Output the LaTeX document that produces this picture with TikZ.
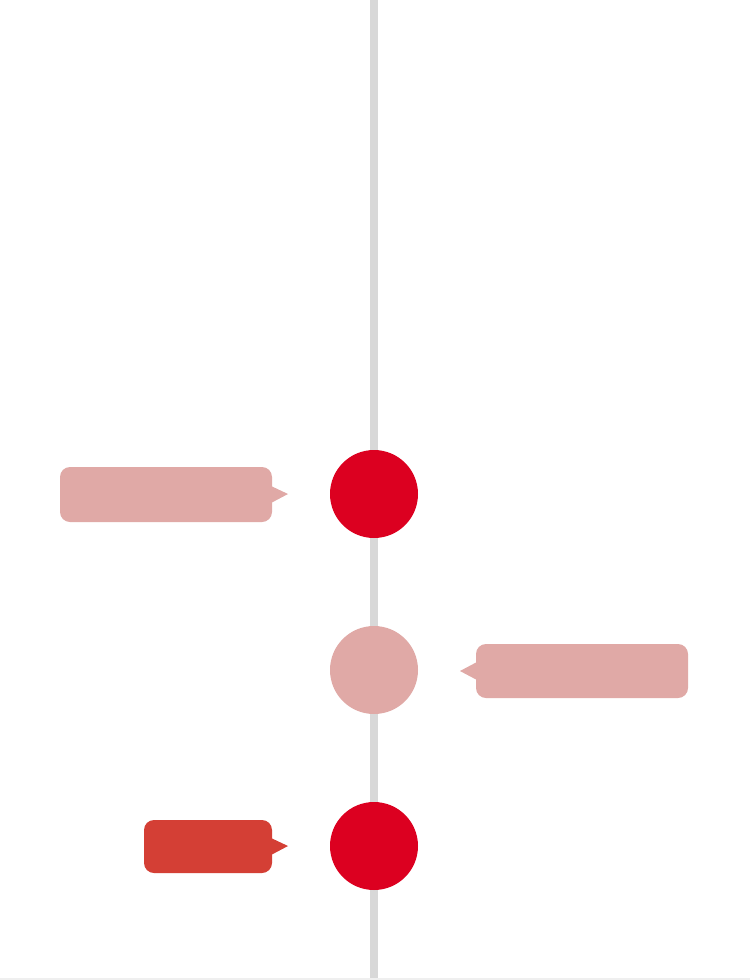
\documentclass[tikz,border=0pt]{standalone}
\definecolor{lineg}{HTML}{D8D8D8}
\definecolor{dotred}{HTML}{DC0020}
\definecolor{pinkish}{HTML}{E0A9A6}
\definecolor{bubred}{HTML}{D43F35}
\definecolor{strip}{HTML}{EFEFEF}
\tikzset{
  dot/.style={circle, minimum size=88pt, inner sep=0pt, fill=#1},
  bubble/.style={rounded corners=10pt, inner sep=0pt, fill=#1},
}
\begin{document}
\begin{tikzpicture}[x=1pt,y=-1pt]
\useasboundingbox (0,0) rectangle (750,980);
\fill[white] (0,0) rectangle (750,980);
\fill[strip] (0,978) rectangle (750,980);
\coordinate (top) at (374,0);
\coordinate (bot) at (374,978);
\draw[lineg, line width=8pt] (top) -- (bot);
\node[dot=dotred] (d1) at (374,494) {};
\node[dot=pinkish] (d2) at (374,670) {};
\node[dot=dotred] (d3) at (374,846) {};
% bubble 1
\node[bubble=pinkish, minimum width=212pt, minimum height=55pt] (b1) at (166,494.5) {};
\fill[pinkish] (271,486) -- (288,494) -- (271,503) -- cycle;
% bubble 2
\node[bubble=pinkish, minimum width=212pt, minimum height=54pt] (b2) at (582,671) {};
\fill[pinkish] (477,662) -- (460,671) -- (477,680) -- cycle;
% bubble 3
\node[bubble=bubred, minimum width=128pt, minimum height=53pt] (b3) at (208,846.5) {};
\fill[bubred] (271,838) -- (288,846) -- (271,855) -- cycle;
\end{tikzpicture}
\end{document}
